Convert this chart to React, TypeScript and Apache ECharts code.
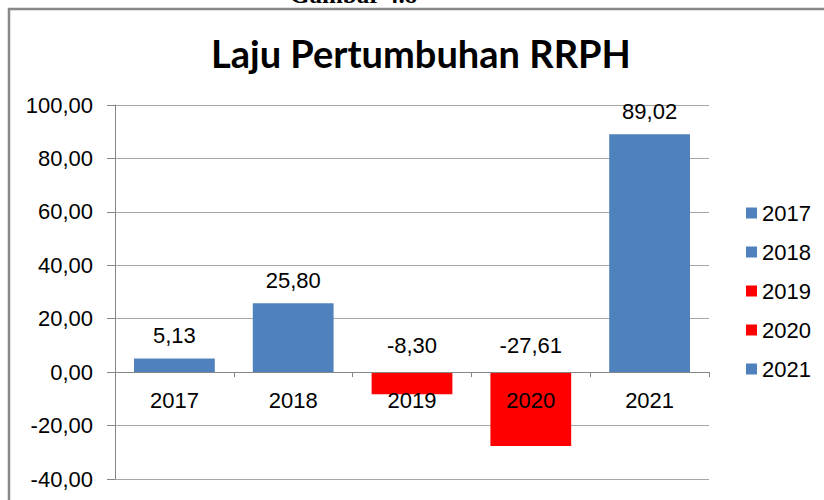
import React, { useEffect, useRef } from "react";
import * as echarts from "echarts";

const categories = ["2017", "2018", "2019", "2020", "2021"];
const values = [5.13, 25.8, -8.3, -27.61, 89.02];
const seriesColors = ["#4F81BD", "#4F81BD", "#FF0000", "#FF0000", "#4F81BD"];
const titleText = "Laju Pertumbuhan RRPH";
const captionText = "Gambar 4.8";
const yMin = -40;
const yMax = 100;
const yInterval = 20;

const fmt = (v: number) => v.toFixed(2).replace(".", ",");
const FONT = '"Liberation Sans", Arial, sans-serif';
const FS = 22;

export default function App() {
  const ref = useRef<HTMLDivElement>(null);
  useEffect(() => {
    if (!ref.current) return;
    const chart = echarts.init(ref.current, null, { renderer: "svg" });
    const series: any[] = categories.map((name, i) => ({
      name,
      type: "bar",
      stack: "all",
      barWidth: "68%",
      itemStyle: { color: seriesColors[i] },
      data: categories.map((_, j) => (j === i ? values[i] : "-")),
      label: {
        show: true,
        position: "top",
        distance: values[i] >= 0 ? 12 : 16,
        formatter: (p: any) => fmt(p.value),
        color: "#000",
        fontFamily: FONT,
        fontSize: FS,
      },
    }));
    // category labels along the zero line
    series.push({
      type: "scatter",
      name: "categoryLabels",
      silent: true,
      z: 6,
      symbol: "circle",
      symbolSize: 1,
      itemStyle: { color: "rgba(0,0,0,0)", opacity: 1 },
      data: categories.map((c) => ({ name: c, value: [c, 0] })),
      label: {
        show: true,
        position: "bottom",
        distance: 17,
        formatter: (p: any) => p.name,
        color: "#000",
        opacity: 1,
        fontFamily: FONT,
        fontSize: FS,
      },
    });
    chart.setOption({
      animation: false,
      backgroundColor: "#fff",
      title: {
        text: titleText,
        left: 206,
        top: 29,
        textStyle: {
          fontFamily: "Lato, sans-serif",
          fontWeight: "bold",
          fontSize: 38,
          color: "#000",
        },
      },
      graphic: [
        {
          type: "text",
          left: 290,
          top: -18,
          style: {
            text: captionText,
            font: 'bold 25px "Liberation Serif", serif',
            fill: "#000",
          },
        },
        {
          type: "rect",
          shape: { x: 9, y: 9, width: 830, height: 520 },
          style: { fill: "none", stroke: "#888888", lineWidth: 2.5 },
        },
      ],
      legend: {
        orient: "vertical",
        left: 746,
        top: 202,
        padding: 0,
        itemWidth: 11,
        itemHeight: 11,
        itemGap: 17,
        icon: "rect",
        textStyle: { fontFamily: FONT, fontSize: FS, color: "#000" },
        data: categories,
      },
      grid: {
        left: 115,
        right: 115,
        top: 105,
        bottom: 21,
        containLabel: false,
        outerBoundsMode: "none",
      },
      xAxis: {
        type: "category",
        data: categories,
        z: 5,
        axisLine: { onZero: true, lineStyle: { color: "#868686", width: 1 } },
        axisTick: { show: true, length: 5, lineStyle: { color: "#868686" } },
        axisLabel: { show: false },
      },
      yAxis: {
        type: "value",
        min: yMin,
        max: yMax,
        interval: yInterval,
        axisLine: { show: true, lineStyle: { color: "#868686", width: 1 } },
        axisTick: { show: true, length: 8, lineStyle: { color: "#868686" } },
        axisLabel: {
          color: "#000",
          fontFamily: FONT,
          fontSize: FS,
          margin: 22,
          formatter: (v: number) => fmt(v),
        },
        splitLine: { lineStyle: { color: "#A6A6A6", width: 1 } },
      },
      series,
    });
    return () => chart.dispose();
  }, []);
  return (
    <div
      ref={ref}
      style={{ position: "absolute", left: 0, top: 0, width: 824, height: 500 }}
    />
  );
}
